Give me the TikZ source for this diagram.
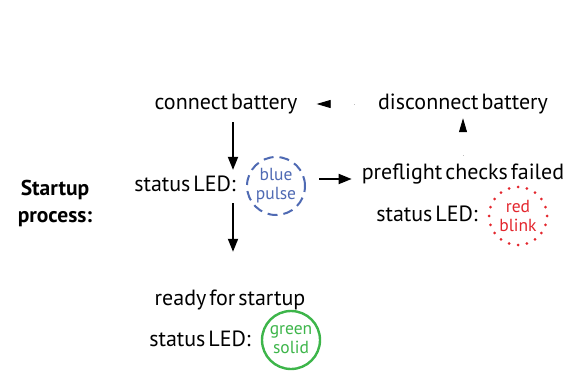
\documentclass[tikz,border=0pt]{standalone}
\usepackage{fontspec}
\setmainfont[WordSpace=0.5]{PT Sans}
\usetikzlibrary{arrows.meta}
\definecolor{ledblue}{HTML}{4F6AB3}
\definecolor{ledred}{HTML}{E3262D}
\definecolor{ledgreen}{HTML}{3DB54A}
\begin{document}
\begin{tikzpicture}[x=1pt,y=-1pt,
    lbl/.style={font=\fontsize{22}{24}\selectfont, inner sep=0pt},
    led/.style={circle, minimum size=58pt, inner sep=0pt, align=center,
      line width=1.8pt, font=\fontsize{17.5}{19}\selectfont},
    flow/.style={line width=1.8pt, -{Triangle[length=13pt,width=10pt]}},
    faint/.style={draw=black!25, line width=0.8pt, dash pattern=on 1pt off 500pt,
      -{Triangle[length=14pt,width=8pt,black]}}]
    \useasboundingbox (0,0) rectangle (564,371);

    \node[font=\bfseries\fontsize{21.5}{27}\selectfont, align=center] (startup) at (55,203) {Startup\\process:};

    \node[lbl] (connect) at (226,104) {connect battery};
    \node[lbl] (disconnect) at (463,104) {disconnect battery};

    \node[lbl, anchor=east] (status1) at (236,184) {status LED:};
    \node[led, draw=ledblue, text=ledblue, line width=2pt, dash pattern=on 10pt off 6pt] (blue) at (276,186) {blue\\pulse};

    \node[lbl] (failed) at (463,174) {preflight checks failed};
    \node[lbl, anchor=east] (status2) at (478,214) {status LED:};
    \node[led, draw=ledred, text=ledred, line cap=round, line width=3pt,
      dash pattern=on 0pt off 9.1pt] (red) at (518,216) {red\\blink};

    \node[lbl] (ready) at (230,300) {ready for startup};
    \node[lbl, anchor=east] (status3) at (251,339) {status LED:};
    \node[led, draw=ledgreen, text=ledgreen, line width=2.4pt] (green) at (291,340) {green\\solid};

    % arrows
    \draw[flow, shorten <=8pt, shorten >=6pt] (connect.south -| 233,0) -- (status1.north -| 233,0);
    \draw[flow, shorten <=11pt, shorten >=38pt] (status1.south -| 233,0) -- (ready.north -| 233,0);
    \draw[flow, shorten <=13pt, shorten >=10pt] (blue.east |- failed.west) ++(0,5) -- ([yshift=-5pt]failed.west);
    \draw[faint, shorten <=23pt, shorten >=19pt] (disconnect.west) -- (connect.east);
    \draw[faint, shorten <=8pt, shorten >=4pt] (failed.north) -- (disconnect.south);
\end{tikzpicture}
\end{document}
